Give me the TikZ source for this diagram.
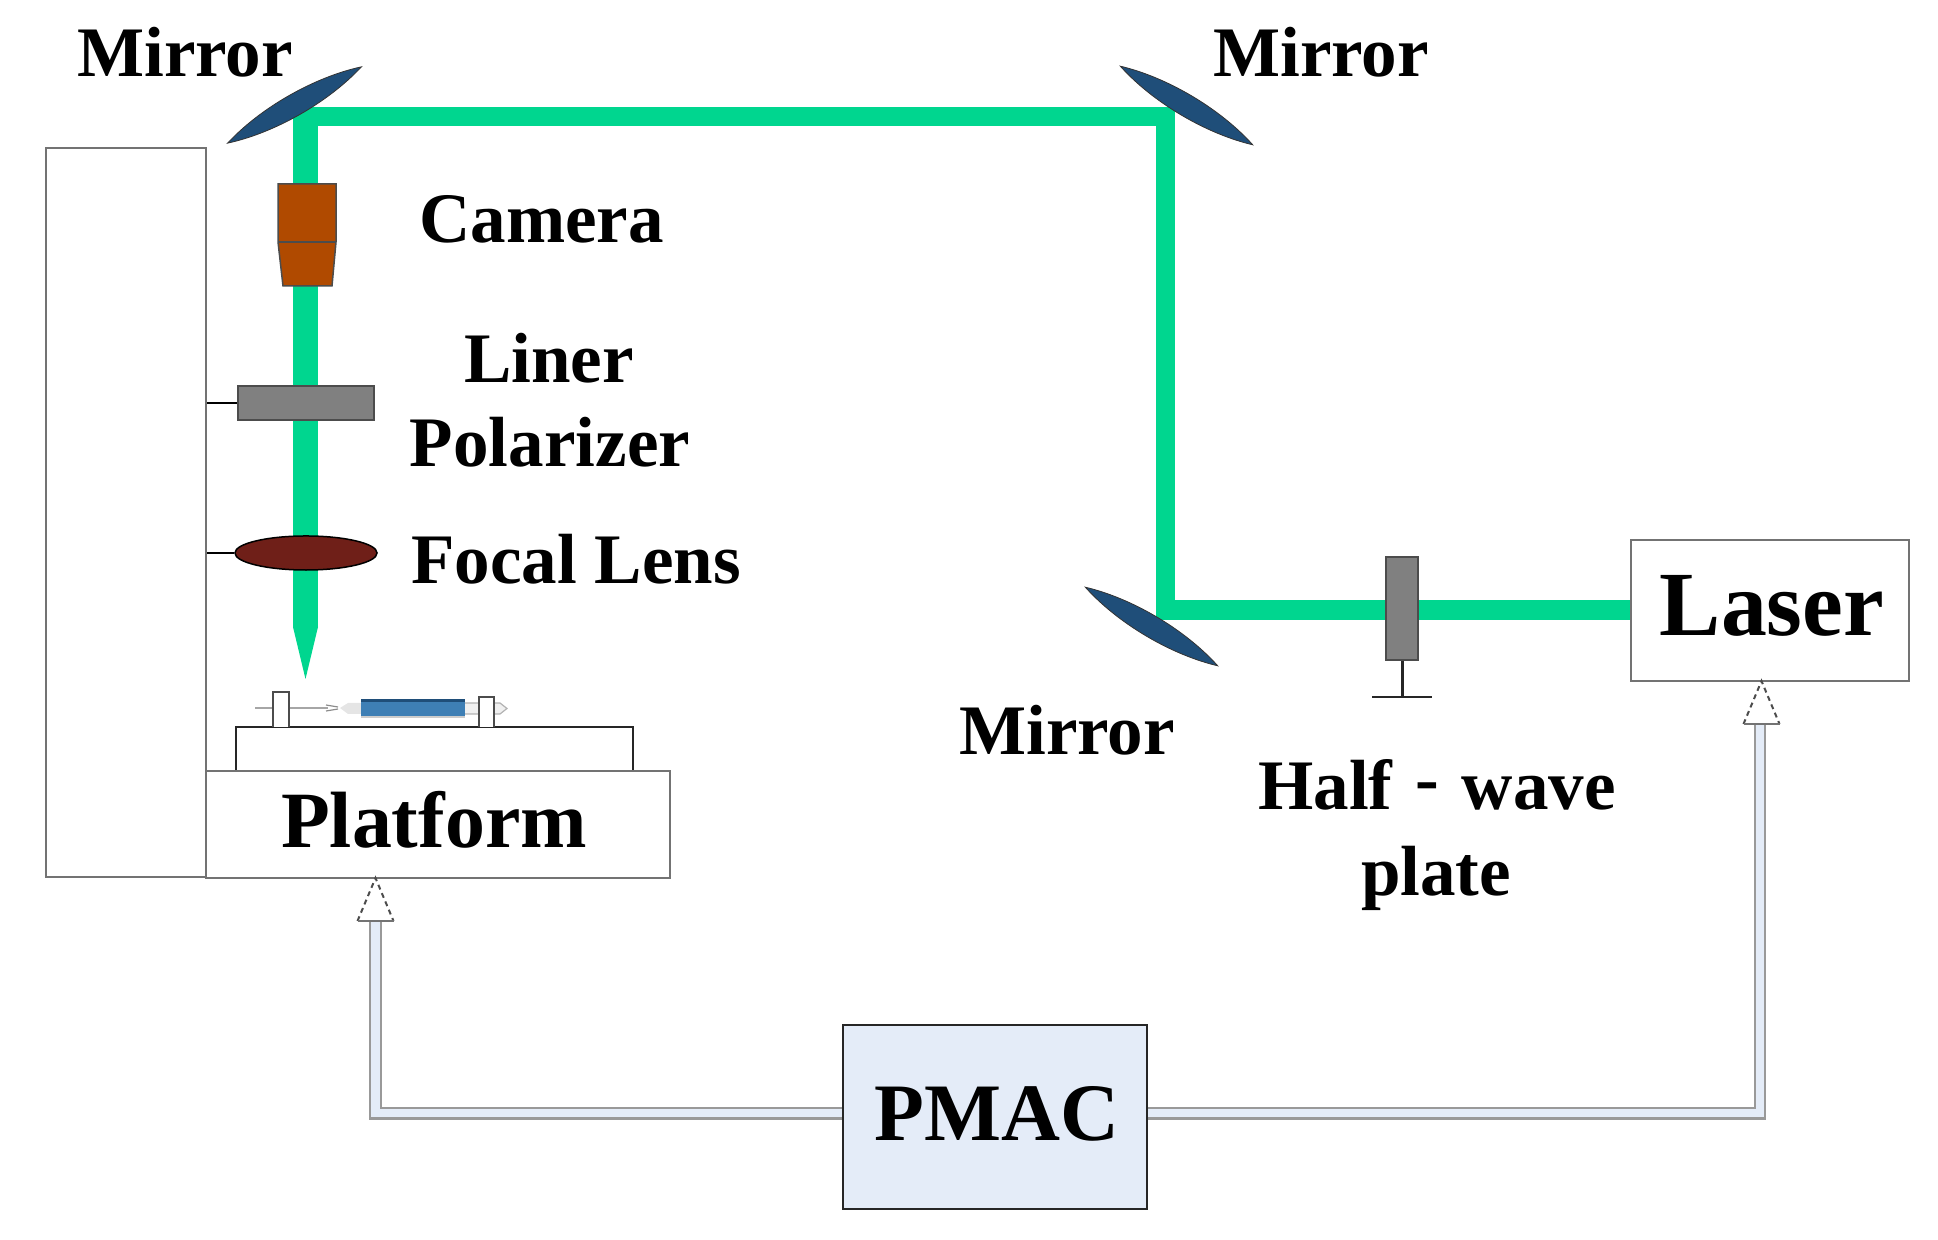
\documentclass[tikz,border=0pt]{standalone}
\usepackage{fontspec}
\setmainfont{Liberation Serif}
\usepackage{xcolor}
\usepackage{tikz}
\usetikzlibrary{positioning,calc,shapes.geometric}
\definecolor{beamgreen}{HTML}{00D68F}
\definecolor{mirrorblue}{HTML}{1F4E79}
\definecolor{camorange}{HTML}{B04A00}
\definecolor{lensred}{HTML}{6F1F18}
\definecolor{shaftblue}{HTML}{E4ECF8}
\definecolor{barrelblue}{HTML}{3E7FB5}
\tikzstyle{boxnod}= [rectangle, draw=black!55, line width=0.02cm, inner sep=0pt, fill=white]
\tikzstyle{platenod}= [rectangle, draw=black!70, line width=0.02cm, inner sep=0pt, fill=black!50]
\tikzstyle{lab}= [anchor=base, inner sep=0pt, font=\bfseries\fontsize{20.2}{24}\selectfont]
\tikzstyle{mirror}= [draw=black!80, line width=0.008cm, fill=mirrorblue]
\tikzstyle{beam}= [draw=beamgreen, line width=0.195cm]
\tikzstyle{shaft}= [draw=black!40, line width=0.02cm, double=shaftblue, double distance=0.08cm]
\tikzstyle{head}= [draw=black!70, line width=0.02cm, dash pattern=on 0.05cm off 0.04cm]
\tikzstyle{holder}= [draw=black!70, line width=0.02cm, fill=white]

\begin{document}
\begin{tikzpicture}[x=0.01cm, y=-0.01cm]
				\useasboundingbox (0,0) rectangle (1938,1240);
				
				\coordinate (m1) at (294.5,105);
				\coordinate (m2) at (1186.5,105.5);
				\coordinate (m3) at (1151.5,626.5);
				\coordinate (c0) at (293,116.5);
				\coordinate (c1) at (305.5,107);
				\coordinate (c2) at (1165.5,116.5);
				\coordinate (c3) at (1165.5,610);
				\coordinate (tipbase) at (305.5,627);
				\coordinate (tip) at (305.5,679);
				
				\node[boxnod, minimum width=1.6cm, minimum height=7.29cm] (column) at (126,512.5) {};
				\node[boxnod, draw=black!85, minimum width=3.97cm, minimum height=0.5cm] (stage) at (434.5,752) {};
				\node[boxnod, minimum width=4.64cm, minimum height=1.07cm] (platform) at (438,824.5) {};
				\node[boxnod, minimum width=2.78cm, minimum height=1.41cm] (laser) at (1770,610.5) {};
				\node[boxnod, draw=black!85, fill=shaftblue, minimum width=3.04cm, minimum height=1.84cm] (pmac) at (995,1117) {};
				
				\draw[beam] (c0) -- (c2) -- (c3) -- (laser.west |- c3);
				\draw[beam, line width=0.25cm] (c1) -- (tipbase);
				\fill[beamgreen] (293,627) -- (tip) -- (318,627) -- cycle;
				
				\foreach \mc/\ang in {m1/29.7, m2/-30.7, m3/-30.7}
					\draw[mirror, shift={(\mc)}, rotate=\ang] (-77,0) .. controls (-31,14.5) and (31,14.5) .. (77,0) .. controls (31,-14.5) and (-31,-14.5) .. (-77,0) -- cycle;
				
				\draw[draw=black!70, line width=0.015cm, fill=camorange] (278,184) -- (336,184) -- (336,242) -- (332,286) -- (283,286) -- (278,242) -- cycle;
				\draw[draw=black!70, line width=0.015cm] (278,242) -- (336,242);
				
				\node[platenod, minimum width=1.36cm, minimum height=0.34cm] (polar) at (306,403) {};
				\node[ellipse, draw=black, line width=0.015cm, inner sep=0pt, fill=lensred, minimum width=1.42cm, minimum height=0.34cm] (lens) at (306,553) {};
				\draw[line width=0.015cm] (column.east |- polar) -- (polar);
				\draw[line width=0.015cm] (column.east |- lens) -- (lens);
				
				\node[platenod, minimum width=0.32cm, minimum height=1.03cm] (plate) at (1402,608.5) {};
				\coordinate (foot) at (1402,697);
				\draw[line width=0.03cm, draw=black!85] (plate.south) -- (foot);
				\draw[line width=0.025cm, draw=black!85] (1372,697) -- (foot) -- (1432,697);
				
				\draw[draw=black!35, line width=0.012cm] (255,708) -- (328,708);
				\draw[draw=black!45, line width=0.012cm] (326,705) -- (338,707);
				\draw[draw=black!45, line width=0.012cm] (326,711) -- (338,709);
				\fill[black!10] (340,708) -- (348,703) -- (361,703) -- (361,714) -- (348,714) -- cycle;
				\draw[draw=black!30, line width=0.012cm, fill=black!6] (465,703) -- (500,703) -- (507,708.5) -- (500,714) -- (465,714);
				\fill[black!20!white] (361,714) rectangle (465,718);
				\fill[barrelblue] (361,699) rectangle (465,716);
				\fill[mirrorblue] (361,699) rectangle (465,702);
				\draw[holder] (273,727) -- (273,692) -- (289,692) -- (289,727);
				\draw[holder] (479,727) -- (479,697) -- (494,697) -- (494,727);
				
				\coordinate (tipP) at (375.5,878);
				\coordinate (tipL) at (1761.5,681);
				\coordinate (baseP) at (375.5,921);
				\coordinate (baseL) at (1760,724);
				\draw[shaft] (pmac.west |- 0,1113.5) -| (baseP);
				\draw[shaft] (pmac.east |- 0,1113.5) -| (baseL);
				\fill[white] ($(baseP)+(-18,0)$) -- (tipP) -- ($(baseP)+(18,0)$) -- cycle;
				\fill[white] ($(tipL |- baseL)+(-18,0)$) -- (tipL) -- ($(tipL |- baseL)+(18,0)$) -- cycle;
				\draw[head] ($(baseP)+(-18,0)$) -- (tipP) -- ($(baseP)+(18,0)$);
				\draw[head] ($(tipL |- baseL)+(-18,0)$) -- (tipL) -- ($(tipL |- baseL)+(18,0)$);
				\draw[draw=black!55, line width=0.02cm] ($(baseP)+(-18,0)$) -- ($(baseP)+(18,0)$);
				\draw[draw=black!55, line width=0.02cm] ($(tipL |- baseL)+(-18,0)$) -- ($(tipL |- baseL)+(18,0)$);
				
				\node[lab] (mirrorA) at (185,77) {Mirror};
				\node[lab] (mirrorB) at (1321,77) {Mirror};
				\node[lab] (mirrorC) at (1067,755) {Mirror};
				\node[lab] (camera) at (541.5,243) {Camera};
				\node[lab] (liner) at (549,383) {Liner};
				\node[lab] (polarizer) at (550,467) {Polarizer};
				\node[lab] (focal) at (576,584) {Focal Lens};
				\node[lab] (halfwave) at (1437,810) {Half\ \hspace{0.07em}\raisebox{0.1em}{-}\ \hspace{0.07em}wave};
				\node[lab] (plateword) at (1436,896) {plate};
				\node[lab, font=\bfseries\fontsize{22.7}{26}\selectfont] (platformword) at (434,848) {Platform};
				\node[lab, font=\bfseries\fontsize{26.1}{30}\selectfont] (laserword) at (1772,636) {Laser};
				\node[lab, font=\bfseries\fontsize{23.2}{27}\selectfont] (pmacword) at (997,1141) {PMAC};
			\end{tikzpicture}
\end{document}
